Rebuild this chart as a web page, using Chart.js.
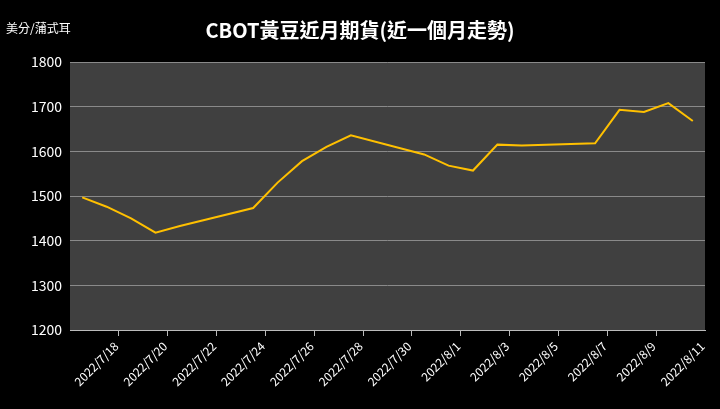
<!DOCTYPE html>
<html><head><meta charset="utf-8">
<script src="https://cdn.jsdelivr.net/npm/chart.js@4"></script>
<style>html,body{margin:0;background:#000}#w{width:720px;height:409px;position:relative}</style>
</head><body><div id="w"><canvas id="c"></canvas></div>
<script>
const dates = ['2022/7/18','2022/7/19','2022/7/20','2022/7/21','2022/7/22','2022/7/23','2022/7/24','2022/7/25','2022/7/26','2022/7/27','2022/7/28','2022/7/29','2022/7/30','2022/7/31','2022/8/1','2022/8/2','2022/8/3','2022/8/4','2022/8/5','2022/8/6','2022/8/7','2022/8/8','2022/8/9','2022/8/10','2022/8/11','2022/8/12'];
const prices = [1497,1476,1450,1418,1433,null,null,1473,1530,1578,1610,1636,null,null,1593,1568,1557,1615,1613,null,null,1618,1693,1688,1708,1668];
const yTicks = [1200,1300,1400,1500,1600,1700,1800];
const bg = {id:'bg',beforeDraw(ch){const x=ch.ctx,a=ch.chartArea;x.save();x.fillStyle='#000';x.fillRect(0,0,ch.width,ch.height);x.fillStyle='#404040';x.fillRect(a.left,a.top,a.right-a.left,a.bottom-a.top);
x.fillStyle='#fff';x.font='12px "Noto Sans CJK TC"';x.textBaseline='middle';x.fillText('美分/蒲式耳',6,28);
x.font='bold 20px "Noto Sans CJK TC"';x.textAlign='center';x.fillText('CBOT黃豆近月期貨(近一個月走勢)',360,30);x.restore();}};
new Chart(document.getElementById('c'),{type:'line',
data:{labels:dates,datasets:[{data:prices,borderColor:'#FFC000',borderWidth:2,pointRadius:0,spanGaps:true,tension:0}]},
options:{responsive:true,maintainAspectRatio:false,animation:false,
layout:{padding:{top:62,right:15,left:0,bottom:0}},
plugins:{legend:{display:false},tooltip:{enabled:false}},
scales:{
x:{offset:true,afterFit:s=>{s.height=79},grid:{offset:true,drawOnChartArea:false,tickLength:6,color:c=>(c.index%2===0&&c.index>0)?'#bbb':'rgba(0,0,0,0)'},border:{color:'#bbb'},
ticks:{autoSkip:false,maxRotation:45,minRotation:45,labelOffset:34,color:'#fff',font:{family:'"Noto Sans CJK TC"',size:12},callback:(v,i)=>i%2===0?dates[i]:''}},
y:{min:1200,max:1800,afterFit:s=>{s.width=70},afterBuildTicks:s=>{s.ticks=yTicks.map(v=>({value:v}))},grid:{color:'#8a8a8a',drawTicks:false},border:{display:false},
ticks:{color:'#fff',padding:8,font:{family:'"Noto Sans CJK TC"',size:14},callback:v=>String(v)}}}},
plugins:[bg]});
</script></body></html>
